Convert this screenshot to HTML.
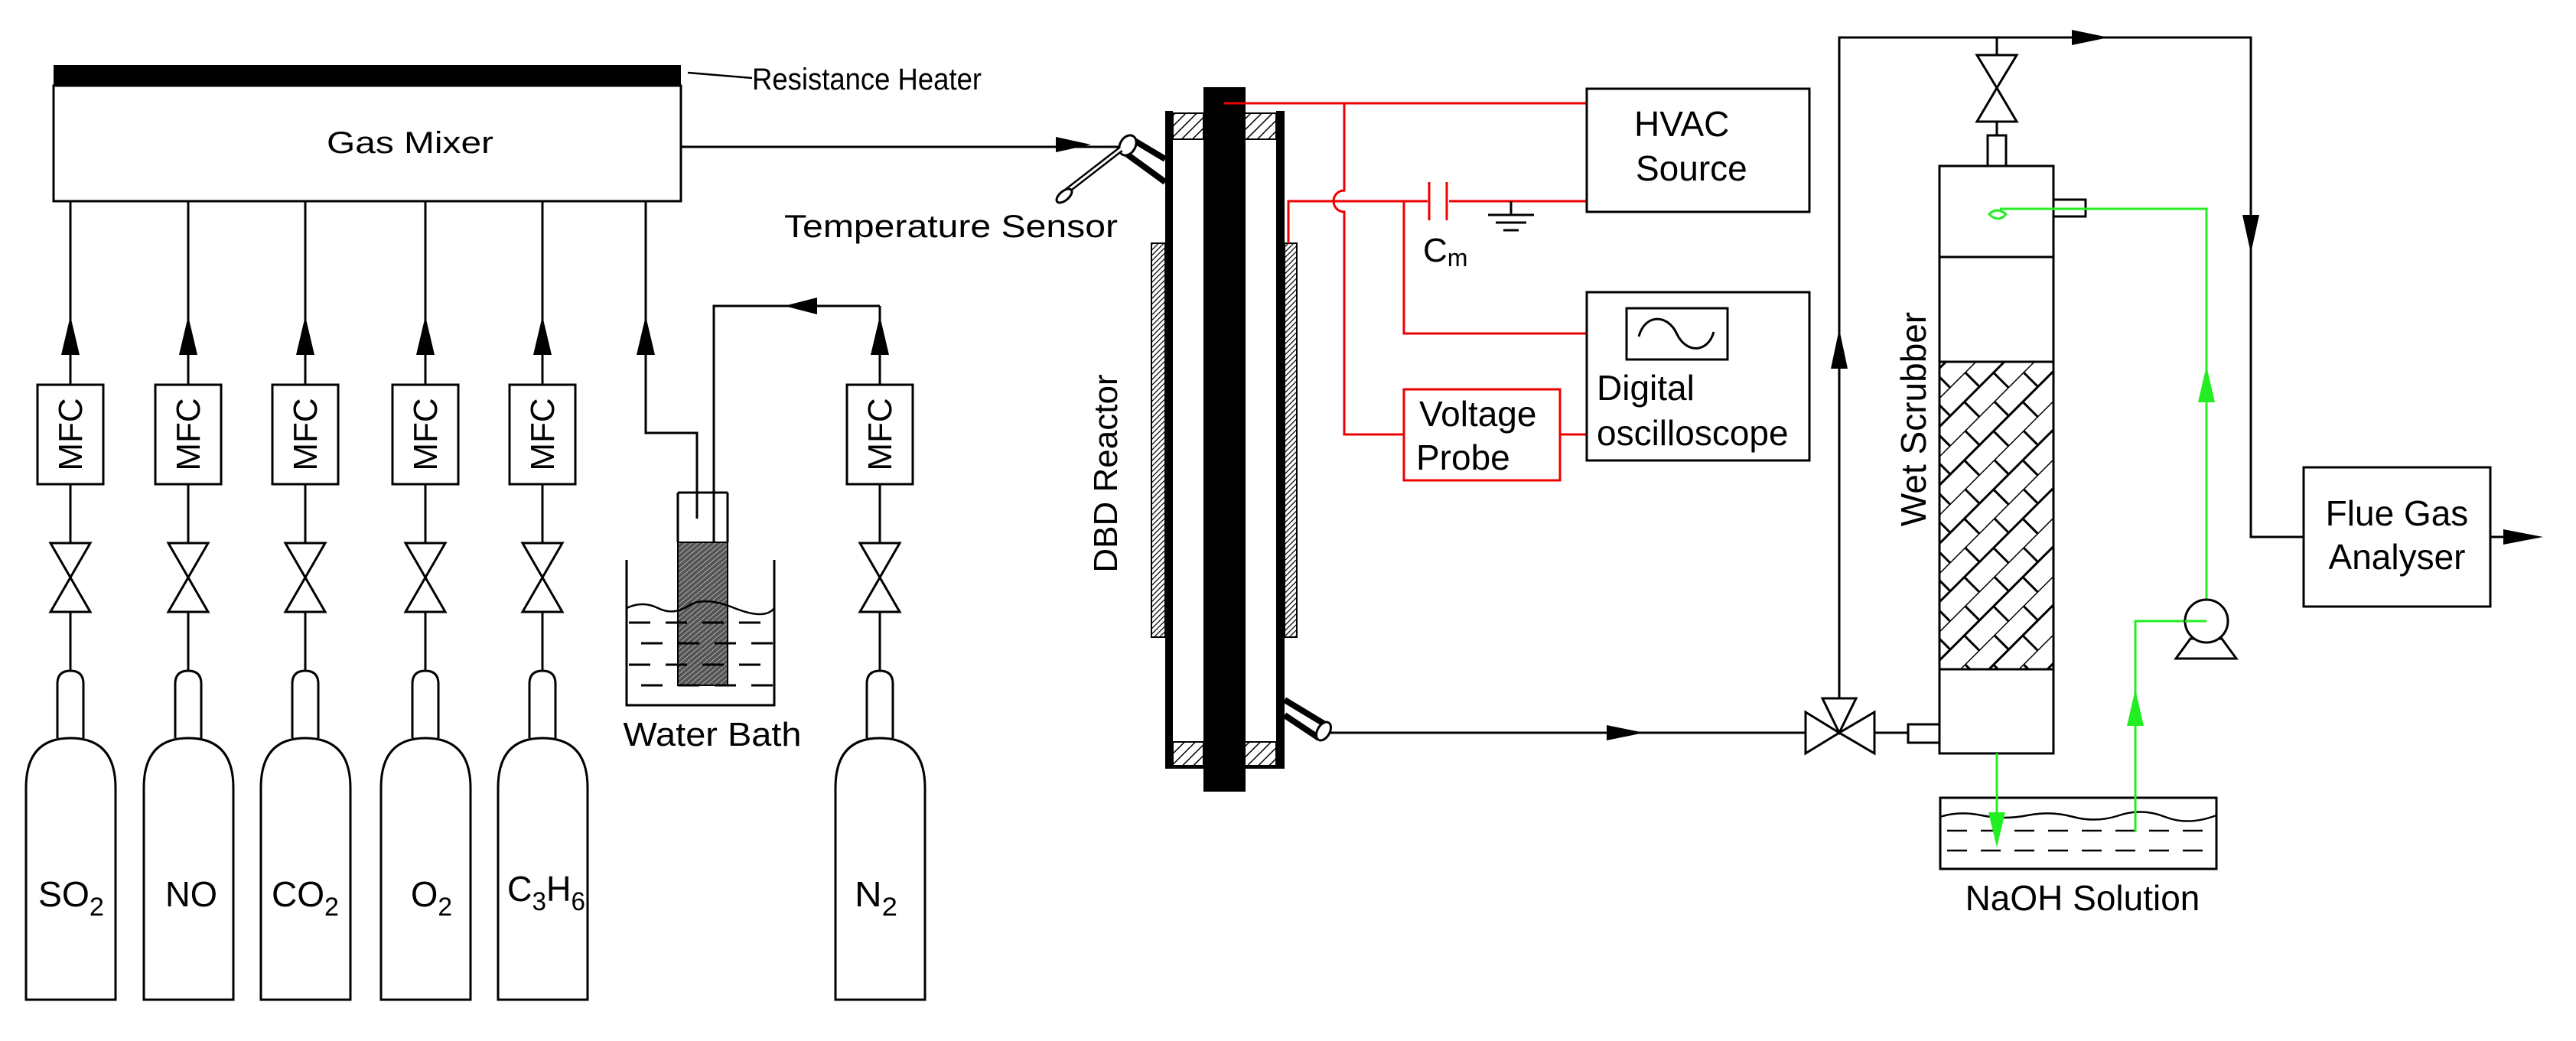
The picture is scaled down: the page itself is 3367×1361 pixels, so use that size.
<!DOCTYPE html>
<html><head><meta charset="utf-8"><style>
html,body{margin:0;padding:0;background:#fff;}
svg{display:block;}
text{font-family:"Liberation Sans",Arial,sans-serif;fill:#000;}
</style></head><body>
<svg width="3367" height="1361" viewBox="0 0 3367 1361" xmlns="http://www.w3.org/2000/svg">
<defs>
<pattern id="h1" width="10" height="10" patternUnits="userSpaceOnUse" patternTransform="rotate(45)">
<rect width="10" height="10" fill="#fff"/><line x1="0" y1="0" x2="0" y2="10" stroke="#000" stroke-width="3"/></pattern>
<pattern id="h2" width="5" height="5" patternUnits="userSpaceOnUse" patternTransform="rotate(45)">
<rect width="5" height="5" fill="#fff"/><line x1="0" y1="0" x2="0" y2="5" stroke="#000" stroke-width="2.5"/></pattern>
<pattern id="h3" width="5" height="5" patternUnits="userSpaceOnUse" patternTransform="rotate(50)">
<rect width="5" height="5" fill="#555"/><line x1="0" y1="0" x2="0" y2="5" stroke="#fff" stroke-width="1"/></pattern>
<pattern id="pk" width="54" height="54" patternUnits="userSpaceOnUse" patternTransform="rotate(-45)">
<rect width="54" height="54" fill="#fff"/>
<line x1="0" y1="0" x2="54" y2="0" stroke="#000" stroke-width="3"/>
<line x1="0" y1="27" x2="54" y2="27" stroke="#000" stroke-width="3"/>
<line x1="14" y1="0" x2="14" y2="27" stroke="#000" stroke-width="3"/>
<line x1="40" y1="27" x2="40" y2="54" stroke="#000" stroke-width="3"/>
</pattern>
</defs>

<rect x="70" y="85" width="820" height="28" fill="#000"/>
<rect x="70" y="112" width="820" height="151" fill="none" stroke="#000" stroke-width="3"/>
<text x="536" y="200" font-size="40" text-anchor="middle" textLength="218" lengthAdjust="spacingAndGlyphs">Gas Mixer</text>
<line x1="899" y1="95" x2="983" y2="102" stroke="#000" stroke-width="2.5"/>
<text x="983" y="117" font-size="40" textLength="300" lengthAdjust="spacingAndGlyphs">Resistance Heater</text>
<line x1="890" y1="192" x2="1470" y2="192" stroke="#000" stroke-width="3"/>
<polygon points="1426,189 1380,179 1380,199" fill="#000"/>

<g stroke="#000" stroke-width="3" fill="none">
<line x1="92" y1="263" x2="92" y2="877"/>
<line x1="246" y1="263" x2="246" y2="877"/>
<line x1="399" y1="263" x2="399" y2="877"/>
<line x1="556" y1="263" x2="556" y2="877"/>
<line x1="709" y1="263" x2="709" y2="877"/>
<line x1="1150" y1="400" x2="1150" y2="877"/>
<polyline points="844,263 844,566 911,566 911,678"/>
<polyline points="933,720 933,400 1150,400"/>
</g>
<g fill="#000">
<polygon points="92,413 80,464 104,464"/>
<polygon points="246,413 234,464 258,464"/>
<polygon points="399,413 387,464 411,464"/>
<polygon points="556,413 544,464 568,464"/>
<polygon points="709,413 697,464 721,464"/>
<polygon points="844,413 832,464 856,464"/>
<polygon points="1150,413 1138,464 1162,464"/>
<polygon points="1025,400 1068,389 1068,411"/>
</g>
<g stroke="#000" stroke-width="3" fill="#fff">
<rect x="49" y="503" width="86" height="130"/>
<rect x="203" y="503" width="86" height="130"/>
<rect x="356" y="503" width="86" height="130"/>
<rect x="513" y="503" width="86" height="130"/>
<rect x="666" y="503" width="86" height="130"/>
<rect x="1107" y="503" width="86" height="130"/>
</g>
<g font-size="44">
<text transform="translate(107,568) rotate(-90)" text-anchor="middle">MFC</text>
<text transform="translate(261,568) rotate(-90)" text-anchor="middle">MFC</text>
<text transform="translate(414,568) rotate(-90)" text-anchor="middle">MFC</text>
<text transform="translate(571,568) rotate(-90)" text-anchor="middle">MFC</text>
<text transform="translate(724,568) rotate(-90)" text-anchor="middle">MFC</text>
<text transform="translate(1165,568) rotate(-90)" text-anchor="middle">MFC</text>
</g>
<g stroke="#000" stroke-width="3" fill="#fff">
<path d="M66,710 L118,710 L92,755 Z M66,800 L118,800 L92,755 Z"/>
<path d="M220,710 L272,710 L246,755 Z M220,800 L272,800 L246,755 Z"/>
<path d="M373,710 L425,710 L399,755 Z M373,800 L425,800 L399,755 Z"/>
<path d="M530,710 L582,710 L556,755 Z M530,800 L582,800 L556,755 Z"/>
<path d="M683,710 L735,710 L709,755 Z M683,800 L735,800 L709,755 Z"/>
<path d="M1124,710 L1176,710 L1150,755 Z M1124,800 L1176,800 L1150,755 Z"/>
</g>
<g stroke="#000" stroke-width="3" fill="#fff">
<g id="cyl0"><path d="M75,965 L75,894 Q75,877 92,877 Q109,877 109,894 L109,965"/><path d="M34,1307 L34,1030 Q34,965 92,965 Q151,965 151,1030 L151,1307 Z"/></g>
<use href="#cyl0" x="154"/><use href="#cyl0" x="307"/><use href="#cyl0" x="464"/><use href="#cyl0" x="617"/><use href="#cyl0" x="1058"/>
</g>
<g font-size="46">
<text x="50" y="1185" textLength="86" lengthAdjust="spacingAndGlyphs">SO<tspan font-size="34" dy="12">2</tspan></text>
<text x="216" y="1185" textLength="68" lengthAdjust="spacingAndGlyphs">NO</text>
<text x="355" y="1185" textLength="88" lengthAdjust="spacingAndGlyphs">CO<tspan font-size="34" dy="12">2</tspan></text>
<text x="537" y="1185" textLength="54" lengthAdjust="spacingAndGlyphs">O<tspan font-size="34" dy="12">2</tspan></text>
<text x="663" y="1178" textLength="102" lengthAdjust="spacingAndGlyphs">C<tspan font-size="34" dy="12">3</tspan><tspan dy="-12">H</tspan><tspan font-size="34" dy="12">6</tspan></text>
<text x="1117" y="1185" textLength="56" lengthAdjust="spacingAndGlyphs">N<tspan font-size="34" dy="12">2</tspan></text>
</g>
<path d="M819,732 L819,922 L1012,922 L1012,732" fill="none" stroke="#000" stroke-width="3"/>
<rect x="886" y="709" width="65" height="187" fill="url(#h3)" stroke="#000" stroke-width="2"/>
<path d="M886,644 L886,709 M951,644 L951,709 M886,644 L951,644" fill="none" stroke="#000" stroke-width="3"/>
<path d="M819,795 Q840,785 860,795 T900,792 T960,795 T1012,795" fill="none" stroke="#000" stroke-width="2.5"/>
<g stroke="#000" stroke-width="3" stroke-dasharray="28,20">
<line x1="822" y1="814" x2="1010" y2="814"/>
<line x1="838" y1="841" x2="1010" y2="841"/>
<line x1="822" y1="869" x2="1010" y2="869"/>
<line x1="838" y1="896" x2="1010" y2="896"/>
</g>
<text x="931" y="975" font-size="44" text-anchor="middle" textLength="233" lengthAdjust="spacingAndGlyphs">Water Bath</text>

<text x="1025" y="310" font-size="42" textLength="436" lengthAdjust="spacingAndGlyphs">Temperature Sensor</text>
<rect x="1533" y="148" width="40" height="34" fill="url(#h1)" stroke="#000" stroke-width="2"/>
<rect x="1627" y="148" width="41" height="34" fill="url(#h1)" stroke="#000" stroke-width="2"/>
<rect x="1533" y="970" width="40" height="33" fill="url(#h1)" stroke="#000" stroke-width="2"/>
<rect x="1627" y="970" width="41" height="33" fill="url(#h1)" stroke="#000" stroke-width="2"/>
<rect x="1523" y="145" width="10" height="860" fill="#000"/>
<rect x="1668" y="145" width="11" height="860" fill="#000"/>
<rect x="1523" y="1000" width="156" height="5" fill="#000"/>
<rect x="1505" y="318" width="18" height="515" fill="url(#h2)" stroke="#000" stroke-width="2"/>
<rect x="1679" y="318" width="16" height="515" fill="url(#h2)" stroke="#000" stroke-width="2"/>
<rect x="1573" y="114" width="55" height="921" fill="#000"/>
<g stroke="#000" fill="none">
<line x1="1478" y1="181" x2="1523" y2="208" stroke-width="8"/>
<line x1="1468" y1="198" x2="1523" y2="238" stroke-width="8"/>
<ellipse cx="1474" cy="190" rx="10" ry="14" transform="rotate(30 1474 190)" stroke-width="3" fill="#fff"/>
<line x1="1465" y1="195" x2="1394" y2="250" stroke-width="8"/>
<line x1="1465" y1="195" x2="1394" y2="250" stroke-width="3" stroke="#fff"/>
<ellipse cx="1391" cy="256" rx="6" ry="12" transform="rotate(50 1391 256)" stroke-width="3" fill="#fff"/>
<line x1="1679" y1="915" x2="1732" y2="947" stroke-width="8"/>
<line x1="1679" y1="935" x2="1724" y2="965" stroke-width="8"/>
<ellipse cx="1730" cy="956" rx="8" ry="13" transform="rotate(30 1730 956)" stroke-width="3" fill="#fff"/>
</g>
<text transform="translate(1460,619) rotate(-90)" font-size="44" text-anchor="middle">DBD Reactor</text>
<line x1="1738" y1="958" x2="2360" y2="958" stroke="#000" stroke-width="3"/>
<polygon points="2149,958 2100,948 2100,968" fill="#000"/>

<g stroke="#e00" stroke-width="3" fill="none">
<line x1="1600" y1="135" x2="2074" y2="135"/>
<path d="M1757,135 L1757,249 A14,14 0 0 0 1757,277 L1757,568 L1835,568"/>
<path d="M1684,318 L1684,263 L2074,263"/>
<path d="M1835,263 L1835,436 L2074,436"/>
<line x1="2039" y1="568" x2="2074" y2="568"/>
<rect x="1835" y="509" width="204" height="119"/>
</g>
<rect x="1866" y="255" width="28" height="16" fill="#fff"/>
<g stroke="#e00" stroke-width="3">
<line x1="1868" y1="238" x2="1868" y2="288"/>
<line x1="1891" y1="238" x2="1891" y2="288"/>
</g>
<g stroke="#000" stroke-width="3">
<line x1="1975" y1="263" x2="1975" y2="281"/>
<line x1="1945" y1="281" x2="2005" y2="281"/>
<line x1="1955" y1="291" x2="1995" y2="291"/>
<line x1="1965" y1="301" x2="1985" y2="301"/>
</g>
<text x="1860" y="342" font-size="44">C<tspan font-size="32" dy="6">m</tspan></text>
<g stroke="#000" stroke-width="3" fill="none">
<rect x="2074" y="116" width="291" height="161"/>
<rect x="2074" y="382" width="291" height="220"/>
<rect x="2126" y="403" width="132" height="67"/>
<path d="M2142,440 C2150,410 2180,410 2192,437 C2204,462 2232,462 2240,434"/>
</g>
<g font-size="46">
<text x="2136" y="178">HVAC</text>
<text x="2138" y="236">Source</text>
<text x="2087" y="523">Digital</text>
<text x="2087" y="582">oscilloscope</text>
<text x="1855" y="557">Voltage</text>
<text x="1851" y="614">Probe</text>
</g>

<g stroke="#000" stroke-width="3" fill="none">
<polyline points="2404,913 2404,49 2942,49 2942,702 3011,702"/>
<line x1="2610" y1="49" x2="2610" y2="72"/>
<line x1="2610" y1="159" x2="2610" y2="177"/>
<path d="M2584,72 L2636,72 L2610,115 Z M2584,159 L2636,159 L2610,115 Z" fill="#fff"/>
<rect x="2598" y="177" width="24" height="40" fill="#fff"/>
<rect x="2535" y="473" width="149" height="402" fill="url(#pk)"/>
<rect x="2535" y="217" width="149" height="768"/>
<line x1="2535" y1="336" x2="2684" y2="336"/>
<line x1="2535" y1="473" x2="2684" y2="473"/>
<line x1="2535" y1="875" x2="2684" y2="875"/>
<rect x="2684" y="261" width="42" height="22" fill="#fff"/>
<rect x="2494" y="947" width="41" height="24" fill="#fff"/>
<line x1="2450" y1="958" x2="2494" y2="958"/>
<path d="M2360,931 L2360,985 L2404,958 Z M2450,931 L2450,985 L2404,958 Z M2382,913 L2426,913 L2404,958 Z" fill="#fff"/>
<rect x="3011" y="611" width="244" height="182" fill="#fff"/>
<line x1="3255" y1="702" x2="3300" y2="702"/>
<rect x="2536" y="1043" width="361" height="93"/>
<path d="M2536,1068 Q2560,1060 2590,1066 T2650,1066 T2710,1068 T2770,1066 T2830,1068 T2897,1066" stroke-width="2.5"/>
</g>
<g stroke="#000" stroke-width="2.5" stroke-dasharray="26,18">
<line x1="2545" y1="1086" x2="2895" y2="1086"/>
<line x1="2545" y1="1112" x2="2895" y2="1112"/>
</g>
<g fill="#000">
<polygon points="2756,49 2708,39 2708,59"/>
<polygon points="2404,430 2393,482 2415,482"/>
<polygon points="2942,331 2931,281 2953,281"/>
<polygon points="3324,702 3272,692 3272,712"/>
</g>
<g stroke="#2e2" stroke-width="3" fill="none">
<polyline points="2614,273 2884,273 2884,783"/>
<polyline points="2884,812 2791,812 2791,1088"/>
<line x1="2610" y1="985" x2="2610" y2="1100"/>
<path d="M2600,280 Q2610,270 2622,280 Q2612,292 2600,280 Z"/>
</g>
<g fill="#2e2">
<polygon points="2884,478 2873,526 2895,526"/>
<polygon points="2791,901 2780,949 2802,949"/>
<polygon points="2610,1108 2599,1062 2621,1062"/>
</g>
<g stroke="#000" stroke-width="3" fill="#fff">
<path d="M2844,861 L2923,861 L2904,835 L2863,835 Z"/>
<circle cx="2884" cy="812" r="28"/>
</g>
<line x1="2884" y1="812" x2="2856" y2="812" stroke="#2e2" stroke-width="3"/>
<g font-size="46">
<text transform="translate(2517,548) rotate(-90)" text-anchor="middle">Wet Scrubber</text>
<text x="2722" y="1190" text-anchor="middle">NaOH Solution</text>
<text x="3133" y="687" text-anchor="middle">Flue Gas</text>
<text x="3133" y="744" text-anchor="middle">Analyser</text>
</g>
</svg>
</body></html>
